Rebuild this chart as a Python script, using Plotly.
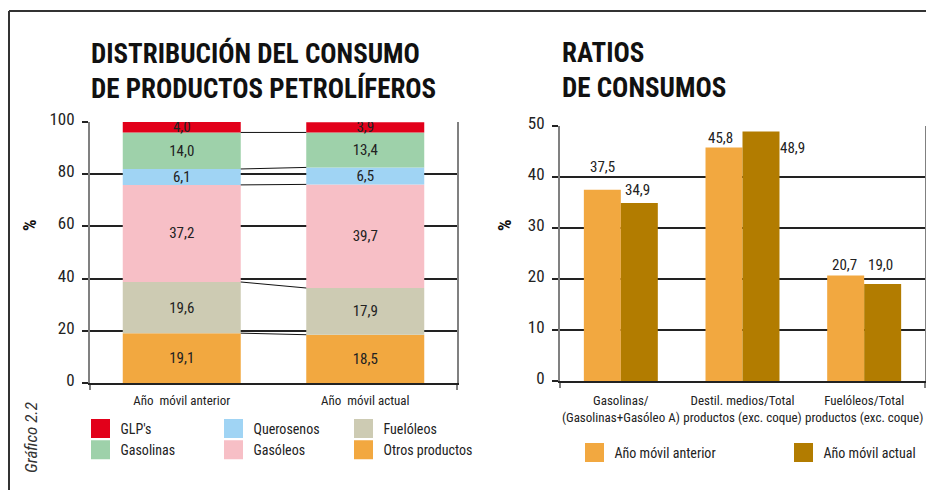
import plotly.graph_objects as go

# ---------------- data ----------------
periods = ["Año  móvil anterior", "Año  móvil actual"]
products = ["Otros productos", "Fuelóleos", "Gasóleos", "Querosenos", "Gasolinas", "GLP's"]
share_anterior = [19.1, 19.6, 37.2, 6.1, 14.0, 4.0]
share_actual = [18.5, 17.9, 39.7, 6.5, 13.4, 3.9]

ratio_labels = [
    "Gasolinas/<br>(Gasolinas+Gasóleo A)",
    "Destil. medios/Total<br>productos (exc. coque)",
    "Fuelóleos/Total<br>productos (exc. coque)",
]
ratio_series = ["Año móvil anterior", "Año móvil actual"]
ratio_anterior = [37.5, 45.8, 20.7]
ratio_actual = [34.9, 48.9, 19.0]

left_y_ticks = [0, 20, 40, 60, 80, 100]
right_y_ticks = [0, 10, 20, 30, 40, 50]

# ---------------- style ----------------
OFF = 8                      # page body margin of the html page
W, H = 934 - OFF, 490 - OFF  # figure size so that it fits the window
FONT = "Roboto Condensed, Liberation Sans, sans-serif"
TXT = "#222222"
product_colors = ["#F2A840", "#CDCBB3", "#F7BFC6", "#A0D4F4", "#9ED1AA", "#E2001A"]
ratio_colors = ["#F2A840", "#B27C00"]
product_legend = ["legend3", "legend3", "legend2", "legend2", "legend", "legend"]

# label offsets (px) for the ratio value labels
lab_dx = [[0.5, -3.5, -1.5], [-1.5, 31.5, -2.0]]
lab_dy = [[23, 9.5, 10.5], [13, -16.5, 19]]

LEFT_BAR_W = 0.643
RIGHT_BAR_W = 0.304


def px_x(p):
    return (p - OFF) / W


def px_y(p):
    return 1 - (p - OFF) / H


def fmt(v):
    return f"{v:.1f}".replace(".", ",")


fig = go.Figure()

# ---------------- left: stacked distribution ----------------
cum_a, cum_b = [], []
ca = cb = 0.0
for i, name in enumerate(products):
    base = [ca, cb]
    vals = [share_anterior[i], share_actual[i]]
    fig.add_trace(go.Bar(
        x=[0, 1], y=vals, base=base, width=LEFT_BAR_W,
        marker=dict(color=product_colors[i], line=dict(width=0)),
        text=[fmt(v) for v in vals], textposition="inside", textangle=0,
        insidetextanchor="middle", constraintext="none",
        textfont=dict(family=FONT, size=15, color=TXT),
        name=name, showlegend=False, hoverinfo="skip",
        xaxis="x", yaxis="y",
    ))
    ca += share_anterior[i]
    cb += share_actual[i]
    cum_a.append(ca)
    cum_b.append(cb)

# connector lines between segment tops
for i in range(len(products) - 1):
    fig.add_trace(go.Scatter(
        x=[0 + LEFT_BAR_W / 2, 1 - LEFT_BAR_W / 2], y=[cum_a[i], cum_b[i]],
        mode="lines", line=dict(color="#111111", width=1),
        showlegend=False, hoverinfo="skip", xaxis="x", yaxis="y",
    ))

# legend entries for products
for i, name in enumerate(products):
    fig.add_trace(go.Scatter(
        x=[None], y=[None], mode="markers", name=name,
        marker=dict(symbol="square", size=16, color=product_colors[i],
                    line=dict(color=product_colors[i], width=3)),
        legend=product_legend[i], legendgroup=name, xaxis="x", yaxis="y",
    ))

# ---------------- right: ratios ----------------
right_vals = [ratio_anterior, ratio_actual]
offsets = [-RIGHT_BAR_W, 0.0]
annotations = []
for s, name in enumerate(ratio_series):
    fig.add_trace(go.Bar(
        x=list(range(len(ratio_labels))), y=right_vals[s],
        width=RIGHT_BAR_W, offset=offsets[s],
        marker=dict(color=ratio_colors[s], line=dict(width=0)),
        name=name, showlegend=False, hoverinfo="skip",
        xaxis="x2", yaxis="y2",
    ))
    fig.add_trace(go.Scatter(
        x=[None], y=[None], mode="markers", name=name,
        marker=dict(symbol="square", size=16, color=ratio_colors[s],
                    line=dict(color=ratio_colors[s], width=3)),
        legend="legend4" if s == 0 else "legend5",
        xaxis="x2", yaxis="y2",
    ))
    for k, v in enumerate(right_vals[s]):
        annotations.append(dict(
            x=k + offsets[s] + RIGHT_BAR_W / 2, y=v, xref="x2", yref="y2",
            text=fmt(v), showarrow=False, xanchor="center", yanchor="middle",
            xshift=lab_dx[s][k], yshift=lab_dy[s][k],
            font=dict(family=FONT, size=15, color=TXT),
        ))

# ---------------- titles & labels ----------------
title_font = dict(family=FONT, size=27, color="#111111")
annotations += [
    dict(x=px_x(89), y=px_y(71), xref="paper", yref="paper", xanchor="left",
         yanchor="middle", showarrow=False, align="left",
         text="<b>DISTRIBUCIÓN DEL CONSUMO<br>DE PRODUCTOS PETROLÍFEROS</b>",
         font=title_font),
    dict(x=px_x(560), y=px_y(71), xref="paper", yref="paper", xanchor="left",
         yanchor="middle", showarrow=False, align="left",
         text="<b>RATIOS<br>DE CONSUMOS</b>", font=title_font),
    dict(x=px_x(30), y=px_y(225), xref="paper", yref="paper", textangle=-90,
         xanchor="center", yanchor="middle",
         showarrow=False, text="<b>%</b>",
         font=dict(family=FONT, size=18, color="#111111")),
    dict(x=px_x(505), y=px_y(225), xref="paper", yref="paper", textangle=-90,
         xanchor="center", yanchor="middle",
         showarrow=False, text="<b>%</b>",
         font=dict(family=FONT, size=18, color="#111111")),
    dict(x=px_x(31), y=px_y(438), xref="paper", yref="paper", textangle=-90,
         xanchor="center", yanchor="middle",
         showarrow=False, text="<i>Gráfico 2.2</i>",
         font=dict(family=FONT, size=17, color="#333333")),
]

axis_common = dict(showgrid=False, zeroline=False, fixedrange=True,
                   automargin=False, tickangle=0)
yaxis_common = dict(
    ticks="outside", ticklen=6, tickcolor="#222222", tickwidth=1.5,
    showgrid=True, gridcolor="#222222", gridwidth=1.5,
    showline=True, linecolor="#808080", linewidth=2, mirror=True,
    zeroline=False, tickfont=dict(family=FONT, size=17, color=TXT),
    ticklabelstandoff=4, ticklabelshift=-3, fixedrange=True, automargin=False,
)

fig.update_layout(
    width=W, height=H, autosize=False,
    margin=dict(l=0, r=0, t=0, b=0, autoexpand=False),
    paper_bgcolor="white", plot_bgcolor="white",
    barmode="overlay",
    font=dict(family=FONT, color=TXT),
    xaxis=dict(
        domain=[px_x(90), px_x(457)], range=[-0.5, 1.5], anchor="y",
        tickmode="array", tickvals=[0, 1], ticktext=periods, ticks="",
        tickfont=dict(family=FONT, size=13, color=TXT), ticklabelstandoff=5,
        showline=True, linecolor="#222222", linewidth=1.5,
        minor=dict(tickmode="array", tickvals=[-0.5, 1.5], ticks="outside",
                   ticklen=5, tickcolor="#808080", tickwidth=2),
        **axis_common,
    ),
    yaxis=dict(domain=[px_y(383), px_y(122)], range=[0, 100], anchor="x",
               tickmode="array", tickvals=left_y_ticks, **yaxis_common),
    xaxis2=dict(
        domain=[px_x(560), px_x(925)], range=[-0.5, 2.5], anchor="y2",
        tickmode="array", tickvals=[0, 1, 2], ticktext=ratio_labels, ticks="",
        tickfont=dict(family=FONT, size=13, color=TXT), ticklabelstandoff=7,
        showline=True, linecolor="#222222", linewidth=1.5,
        minor=dict(tickmode="array", tickvals=[-0.5, 2.5], ticks="outside",
                   ticklen=5, tickcolor="#808080", tickwidth=2),
        **axis_common,
    ),
    yaxis2=dict(domain=[px_y(381), px_y(126)], range=[0, 50], anchor="x2",
                tickmode="array", tickvals=right_y_ticks, **yaxis_common),
    annotations=annotations,
    shapes=[
        dict(type="line", xref="paper", yref="paper", x0=px_x(9), x1=px_x(9),
             y0=px_y(500), y1=px_y(11), line=dict(color="#333333", width=2)),
        dict(type="line", xref="paper", yref="paper", x0=px_x(9), x1=px_x(950),
             y0=px_y(11), y1=px_y(11), line=dict(color="#333333", width=2)),
    ],
)

leg_common = dict(
    xanchor="left", yanchor="top", orientation="v", bgcolor="rgba(0,0,0,0)",
    font=dict(family=FONT, size=14, color=TXT), traceorder="reversed",
    tracegroupgap=3,
)
fig.update_layout(
    legend=dict(x=px_x(80.5), y=px_y(413), **leg_common),
    legend2=dict(x=px_x(213.5), y=px_y(413), **leg_common),
    legend3=dict(x=px_x(343.5), y=px_y(413), **leg_common),
    legend4=dict(x=px_x(574.5), y=px_y(437), **leg_common),
    legend5=dict(x=px_x(783.5), y=px_y(437), **leg_common),
)

fig.write_html("out.html")
